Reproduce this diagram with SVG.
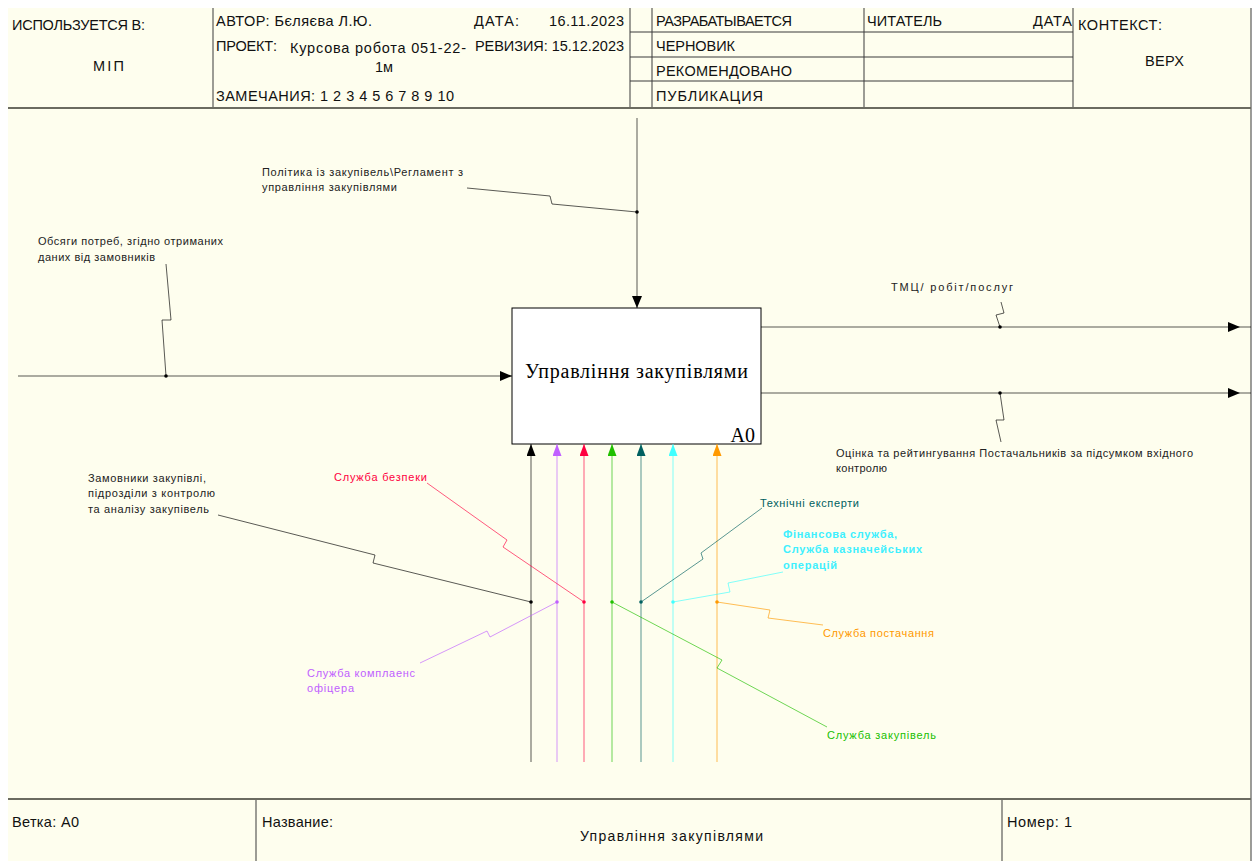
<svg xmlns="http://www.w3.org/2000/svg" width="1257" height="861" viewBox="0 0 1257 861">
<style>
.hd{font-family:"Liberation Sans",Arial,sans-serif;font-size:14.5px;fill:#111}
.lb{font-family:"Liberation Sans",Arial,sans-serif;font-size:11px}
.fr{stroke:#3a3a3a;stroke-width:1;fill:none}
.sep{stroke:#6b6b60;stroke-width:2;fill:none}
.cn{fill:none;stroke-width:1;stroke-opacity:0.65}
.bt{font-family:"Liberation Serif","Times New Roman",serif;font-size:20px;fill:#000}
</style>
<defs>
<marker id="a-k" markerUnits="userSpaceOnUse" markerWidth="12" markerHeight="10" refX="12" refY="5" orient="auto"><path d="M0,0 L12,5 L0,10 z" fill="#000"/></marker>
<marker id="a-out" markerUnits="userSpaceOnUse" markerWidth="24" markerHeight="10" refX="23" refY="5" orient="auto" overflow="visible"><path d="M0,0 L12,5 L0,10 z" fill="#000"/></marker>
<marker id="m-k" markerUnits="userSpaceOnUse" markerWidth="12" markerHeight="9" refX="12" refY="4.5" orient="auto"><path d="M0,0 L12,4.5 L0,9 z" fill="#000"/></marker>
<marker id="m-v" markerUnits="userSpaceOnUse" markerWidth="12" markerHeight="9" refX="12" refY="4.5" orient="auto"><path d="M0,0 L12,4.5 L0,9 z" fill="#C060FF"/></marker>
<marker id="m-r" markerUnits="userSpaceOnUse" markerWidth="12" markerHeight="9" refX="12" refY="4.5" orient="auto"><path d="M0,0 L12,4.5 L0,9 z" fill="#FF0040"/></marker>
<marker id="m-g" markerUnits="userSpaceOnUse" markerWidth="12" markerHeight="9" refX="12" refY="4.5" orient="auto"><path d="M0,0 L12,4.5 L0,9 z" fill="#20C000"/></marker>
<marker id="m-t" markerUnits="userSpaceOnUse" markerWidth="12" markerHeight="9" refX="12" refY="4.5" orient="auto"><path d="M0,0 L12,4.5 L0,9 z" fill="#006060"/></marker>
<marker id="m-c" markerUnits="userSpaceOnUse" markerWidth="12" markerHeight="9" refX="12" refY="4.5" orient="auto"><path d="M0,0 L12,4.5 L0,9 z" fill="#40FFFF"/></marker>
<marker id="m-o" markerUnits="userSpaceOnUse" markerWidth="12" markerHeight="9" refX="12" refY="4.5" orient="auto"><path d="M0,0 L12,4.5 L0,9 z" fill="#FF9900"/></marker>
</defs>
<rect x="0" y="0" width="1257" height="861" fill="#ffffff"/>
<rect x="8" y="8" width="1243" height="853" fill="#FEFEEE"/>

<g id="frame">
<line class="fr" x1="1251" y1="8" x2="1251" y2="861"/>
<line class="fr" x1="213" y1="8" x2="213" y2="108"/>
<line class="fr" x1="630" y1="8" x2="630" y2="108"/>
<line class="fr" x1="652" y1="8" x2="652" y2="108"/>
<line class="fr" x1="864" y1="8" x2="864" y2="108"/>
<line class="fr" x1="1073" y1="8" x2="1073" y2="108"/>
<line class="fr" x1="630" y1="32" x2="1073" y2="32"/>
<line class="fr" x1="630" y1="57" x2="1073" y2="57"/>
<line class="fr" x1="630" y1="81" x2="1073" y2="81"/>
<line class="sep" x1="8" y1="108" x2="1251" y2="108"/>
<line class="sep" x1="8" y1="799" x2="1251" y2="799"/>
<line class="fr" x1="256" y1="800" x2="256" y2="861"/>
<line class="fr" x1="1002" y1="800" x2="1002" y2="861"/>
<text class="hd" x="12" y="30" textLength="133">ИСПОЛЬЗУЕТСЯ В:</text>
<text class="hd" x="93" y="71" textLength="31">МІП</text>
<text class="hd" x="216" y="26" textLength="156">АВТОР: Бєляєва Л.Ю.</text>
<text class="hd" x="216" y="51" textLength="61">ПРОЕКТ:</text>
<text class="hd" x="290" y="53" textLength="176" fill="#333">Курсова робота 051-22-</text>
<text class="hd" x="375" y="72" fill="#333">1м</text>
<text class="hd" x="216" y="101" textLength="238">ЗАМЕЧАНИЯ: 1 2 3 4 5 6 7 8 9 10</text>
<text class="hd" x="474" y="26" textLength="45">ДАТА:</text>
<text class="hd" x="549" y="26" textLength="75">16.11.2023</text>
<text class="hd" x="475" y="51" textLength="149">РЕВИЗИЯ: 15.12.2023</text>
<text class="hd" x="656" y="26" textLength="136">РАЗРАБАТЫВАЕТСЯ</text>
<text class="hd" x="656" y="51" textLength="79">ЧЕРНОВИК</text>
<text class="hd" x="656" y="76" textLength="136">РЕКОМЕНДОВАНО</text>
<text class="hd" x="656" y="101" textLength="107">ПУБЛИКАЦИЯ</text>
<text class="hd" x="867" y="26" textLength="75">ЧИТАТЕЛЬ</text>
<text class="hd" x="1033" y="26" textLength="39">ДАТА</text>
<text class="hd" x="1078" y="30" textLength="84">КОНТЕКСТ:</text>
<text class="hd" x="1145" y="66" textLength="39">ВЕРХ</text>
<text class="hd" x="12" y="827" textLength="67">Ветка: А0</text>
<text class="hd" x="262" y="827" textLength="71">Название:</text>
<text class="hd" x="580" y="841" textLength="183" style="font-size:14px">Управління закупівлями</text>
<text class="hd" x="1007" y="827" textLength="65">Номер: 1</text>
</g>

<g id="node-A0">
<rect x="512" y="308" width="249" height="136" fill="#ffffff" stroke="#000" stroke-width="1"/>
<text class="bt" x="525" y="378" textLength="223">Управління закупівлями</text>
<text class="bt" x="755" y="442" text-anchor="end">A0</text>
</g>

<g id="connectors">
<path class="cn" stroke="#000" d="M637,118 V308" marker-end="url(#a-k)"/>
<path class="cn" stroke="#000" d="M18,376 H512" marker-end="url(#a-k)"/>
<path class="cn" stroke="#000" d="M761,327 H1251" marker-end="url(#a-out)"/>
<path class="cn" stroke="#000" d="M761,393 H1251" marker-end="url(#a-out)"/>
<path class="cn" stroke="#000" d="M531,762 V444" marker-end="url(#m-k)"/>
<path class="cn" stroke="#C060FF" d="M557,762 V444" marker-end="url(#m-v)"/>
<path class="cn" stroke="#FF0040" d="M584,762 V444" marker-end="url(#m-r)"/>
<path class="cn" stroke="#20C000" d="M612,762 V444" marker-end="url(#m-g)"/>
<path class="cn" stroke="#006060" d="M641,762 V444" marker-end="url(#m-t)"/>
<path class="cn" stroke="#40FFFF" d="M673,762 V444" marker-end="url(#m-c)"/>
<path class="cn" stroke="#FF9900" d="M717,762 V444" marker-end="url(#m-o)"/>
<path class="cn" stroke="#000" d="M467,188 L550,196 L552,204 L637,212"/>
<path class="cn" stroke="#000" d="M166,264 L171,320 L162,320 L166,376"/>
<path class="cn" stroke="#000" d="M1001,302 L1004,313 L996,315 L1000,327"/>
<path class="cn" stroke="#000" d="M1000,393 L1004,420 L996,420 L1001,442"/>
<path class="cn" stroke="#000" d="M218,515 L375,555 L373,563 L531,602"/>
<path class="cn" stroke="#FF0040" d="M427,483 L507,540 L503,547 L584,602"/>
<path class="cn" stroke="#C060FF" d="M420,663 L487,631 L490,637 L557,602"/>
<path class="cn" stroke="#006060" d="M762,508 L701,553 L703,559 L641,602"/>
<path class="cn" stroke="#40FFFF" d="M783,572 L728,583 L730,592 L673,602"/>
<path class="cn" stroke="#FF9900" d="M717,602 L770,610 L768,618 L823,625"/>
<path class="cn" stroke="#20C000" d="M612,602 L722,660 L717,668 L827,727"/>
<circle cx="637" cy="212" r="1.8" fill="#000"/>
<circle cx="166" cy="376" r="1.8" fill="#000"/>
<circle cx="1000" cy="327" r="1.8" fill="#000"/>
<circle cx="1000" cy="393" r="1.8" fill="#000"/>
<circle cx="531" cy="602" r="1.8" fill="#000"/>
<circle cx="557" cy="602" r="1.8" fill="#C060FF"/>
<circle cx="584" cy="602" r="1.8" fill="#FF0040"/>
<circle cx="612" cy="602" r="1.8" fill="#20C000"/>
<circle cx="641" cy="602" r="1.8" fill="#006060"/>
<circle cx="673" cy="602" r="1.8" fill="#40FFFF"/>
<circle cx="717" cy="602" r="1.8" fill="#FF9900"/>
</g>

<g id="labels">
<text class="lb" fill="#222" x="262" y="176" textLength="201">Політика із закупівель\Регламент з</text>
<text class="lb" fill="#222" x="262" y="191" textLength="135">управління закупівлями</text>
<text class="lb" fill="#222" x="38" y="245" textLength="185">Обсяги потреб, згідно отриманих</text>
<text class="lb" fill="#222" x="38" y="261" textLength="117">даних від замовників</text>
<text class="lb" fill="#222" x="891" y="291" textLength="122">ТМЦ/ робіт/послуг</text>
<text class="lb" fill="#222" x="836" y="457" textLength="357">Оцінка та рейтингування Постачальників за підсумком вхідного</text>
<text class="lb" fill="#222" x="836" y="472" textLength="51">контролю</text>
<text class="lb" fill="#222" x="88" y="482" textLength="118">Замовники закупівлі,</text>
<text class="lb" fill="#222" x="88" y="497" textLength="127">підрозділи з контролю</text>
<text class="lb" fill="#222" x="88" y="513" textLength="121">та аналізу закупівель</text>
<text class="lb" fill="#FF0040" x="334" y="481" textLength="93">Служба безпеки</text>
<text class="lb" fill="#C060FF" x="307" y="677" textLength="108">Служба комплаенс</text>
<text class="lb" fill="#C060FF" x="307" y="692" textLength="47">офіцера</text>
<text class="lb" fill="#006060" x="760" y="507" textLength="99">Технічні експерти</text>
<text class="lb" fill="#40F0FF" font-weight="bold" x="783" y="538" textLength="114">Фінансова служба,</text>
<text class="lb" fill="#40F0FF" font-weight="bold" x="783" y="553" textLength="139">Служба казначейських</text>
<text class="lb" fill="#40F0FF" font-weight="bold" x="783" y="569" textLength="54">операцій</text>
<text class="lb" fill="#FF9900" x="823" y="637" textLength="111">Служба постачання</text>
<text class="lb" fill="#20C000" x="827" y="739" textLength="109">Служба закупівель</text>
</g>
</svg>
